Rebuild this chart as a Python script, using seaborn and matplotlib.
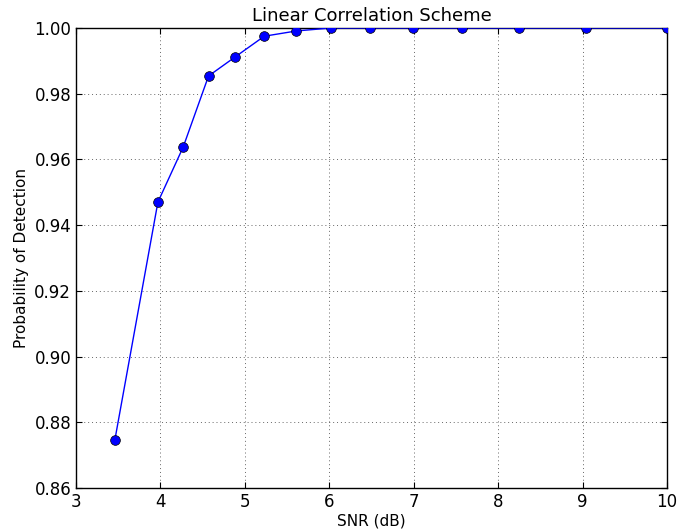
import numpy as np
import pandas as pd
import matplotlib
matplotlib.use("Agg")
import matplotlib.pyplot as plt
import seaborn as sns

# values
snr_db = [3.46, 3.97, 4.27, 4.57, 4.88, 5.23, 5.61, 6.02, 6.48, 6.99, 7.57, 8.25, 9.04, 10.0]
p_detect = [0.8746, 0.9470, 0.9638, 0.9854, 0.9911, 0.9975, 0.9991, 1.0, 1.0, 1.0, 1.0, 1.0, 1.0, 1.0]

df = pd.DataFrame({"SNR (dB)": snr_db, "Probability of Detection": p_detect})

sns.set_style("white")
plt.rcParams["font.family"] = ["DejaVu Sans"]
plt.rcParams["text.color"] = "black"
plt.rcParams["axes.labelcolor"] = "black"
plt.rcParams["xtick.color"] = "black"
plt.rcParams["ytick.color"] = "black"

fig = plt.figure(figsize=(6.88, 5.30), dpi=100)
ax = fig.add_axes([76 / 688, 42 / 530, 591 / 688, 460 / 530])

sns.lineplot(data=df, x="SNR (dB)", y="Probability of Detection", ax=ax,
             color="blue", marker="o", markersize=7, markeredgecolor="black",
             markeredgewidth=0.5, linewidth=1.0, zorder=3)

ax.set_xlim(3, 10)
ax.set_ylim(0.86, 1.0)
ax.set_xticks(np.arange(3, 11, 1))
ax.set_yticks(np.arange(0.86, 1.001, 0.02))
ax.yaxis.set_major_formatter(matplotlib.ticker.FormatStrFormatter("%.2f"))
ax.grid(True, linestyle=(0, (1, 3)), color="black", linewidth=0.7, alpha=0.6)
ax.tick_params(axis="both", labelsize=12, direction="in", length=4, color="black",
               top=True, right=True, bottom=True, left=True)
for s in ax.spines.values():
    s.set_color("black")
    s.set_linewidth(1.0)

ax.set_title("Linear Correlation Scheme", fontsize=13, pad=5)
ax.set_xlabel("SNR (dB)", fontsize=11, labelpad=2)
ax.set_ylabel("Probability of Detection", fontsize=11, labelpad=4)

fig.savefig("out.png", dpi=100)
